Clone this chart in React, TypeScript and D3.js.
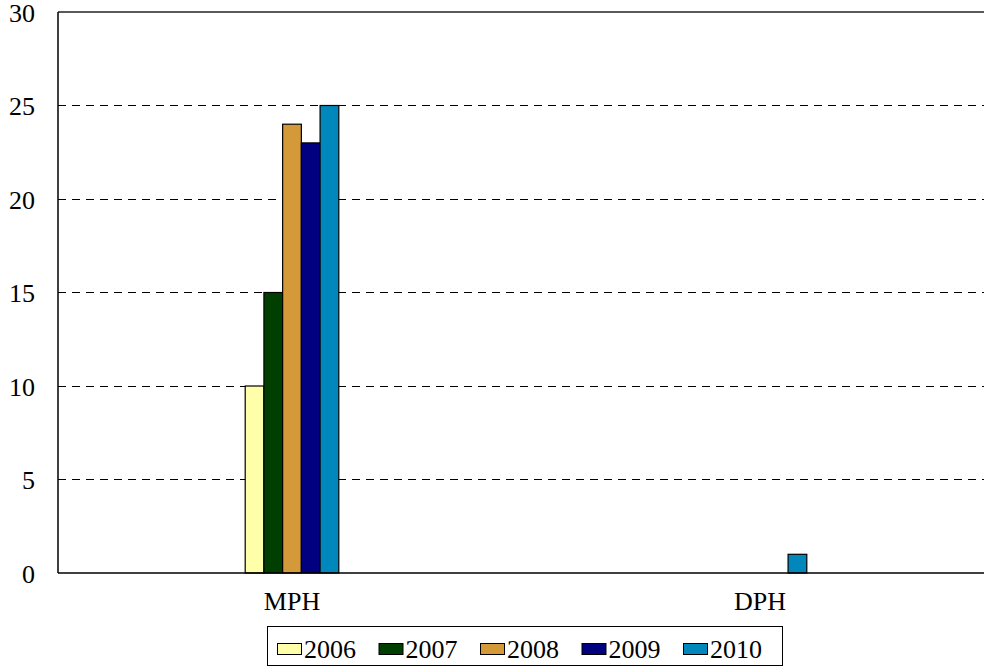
import React, { useEffect, useRef } from 'react';
import * as d3 from 'd3';

const categories = ['MPH', 'DPH'];
const years = ['2006', '2007', '2008', '2009', '2010'];
const mph = [10, 15, 24, 23, 25];
const dph = [0, 0, 0, 0, 1];
const yTicks = [0, 5, 10, 15, 20, 25, 30];
const colors = ['#FFFFAA', '#003F00', '#D49A3A', '#000080', '#0088BD'];

const W = 984, H = 667;
const margin = { left: 58, top: 12, bottom: 94 };
const plotW = 936;

export default function App() {
  const ref = useRef<SVGSVGElement>(null);

  useEffect(() => {
    const svg = d3.select(ref.current);
    svg.selectAll('*').remove();
    const font = '"Liberation Serif", "Times New Roman", serif';
    const fs = 26;

    const x0 = d3.scaleBand().domain(categories).range([margin.left, margin.left + plotW]);
    const groupW = x0.bandwidth() * 0.2;
    const x1 = d3.scaleBand().domain(years).range([0, groupW]);
    const y = d3.scaleLinear().domain([0, 30]).range([H - margin.bottom, margin.top]);

    // grid
    svg.append('g')
      .selectAll('line')
      .data(yTicks.filter(t => t > 0 && t < 30))
      .join('line')
      .attr('x1', margin.left).attr('x2', W)
      .attr('y1', d => y(d)).attr('y2', d => y(d))
      .attr('stroke', '#000').attr('stroke-width', 1)
      .attr('stroke-dasharray', '8,6')
      .attr('shape-rendering', 'crispEdges');

    // top border
    svg.append('line')
      .attr('x1', margin.left).attr('x2', W)
      .attr('y1', y(30)).attr('y2', y(30))
      .attr('stroke', '#222').attr('stroke-width', 1.3);

    const rows = [mph, dph];
    categories.forEach((c, ci) => {
      const g = svg.append('g').attr('transform', `translate(${x0(c)! + (x0.bandwidth() - groupW) / 2},0)`);
      g.selectAll('rect')
        .data(rows[ci].map((v, i) => ({ v, i })).filter(d => d.v > 0))
        .join('rect')
        .attr('x', d => x1(years[d.i])!)
        .attr('width', x1.bandwidth())
        .attr('y', d => y(d.v))
        .attr('height', d => y(0) - y(d.v))
        .attr('fill', d => colors[d.i])
        .attr('stroke', '#000').attr('stroke-width', 1.2);
    });

    // axes lines
    svg.append('line')
      .attr('x1', margin.left).attr('x2', margin.left)
      .attr('y1', y(30)).attr('y2', y(0))
      .attr('stroke', '#000').attr('stroke-width', 1.5);
    svg.append('line')
      .attr('x1', margin.left).attr('x2', W)
      .attr('y1', y(0)).attr('y2', y(0))
      .attr('stroke', '#000').attr('stroke-width', 1.5);

    // y labels
    svg.append('g')
      .selectAll('text')
      .data(yTicks)
      .join('text')
      .attr('x', 35).attr('y', d => y(d))
      .attr('dy', '0.38em')
      .attr('text-anchor', 'end')
      .attr('font-family', font).attr('font-size', fs)
      .text(d => d);

    // x labels
    svg.append('g')
      .selectAll('text')
      .data(categories)
      .join('text')
      .attr('x', d => x0(d)! + x0.bandwidth() / 2)
      .attr('y', 610)
      .attr('text-anchor', 'middle')
      .attr('font-family', font).attr('font-size', fs)
      .text(d => d);

    // legend
    const lg = svg.append('g');
    lg.append('rect')
      .attr('x', 267.5).attr('y', 626.5).attr('width', 515).attr('height', 39)
      .attr('fill', '#fff').attr('stroke', '#000').attr('stroke-width', 1);
    const items = lg.selectAll('g.item')
      .data(years)
      .join('g')
      .attr('class', 'item')
      .attr('transform', (d, i) => `translate(${277 + i * 101.5},0)`);
    items.append('rect')
      .attr('x', 0.5).attr('y', 643.5).attr('width', 24).attr('height', 11)
      .attr('fill', (d, i) => colors[i])
      .attr('stroke', '#000').attr('stroke-width', 1);
    items.append('text')
      .attr('x', 27).attr('y', 658)
      .attr('font-family', font).attr('font-size', fs)
      .text(d => d);
  }, []);

  return (
    <svg ref={ref} width={W} height={H}
      style={{ position: 'absolute', left: 0, top: 0, background: '#fff', display: 'block' }} />
  );
}
